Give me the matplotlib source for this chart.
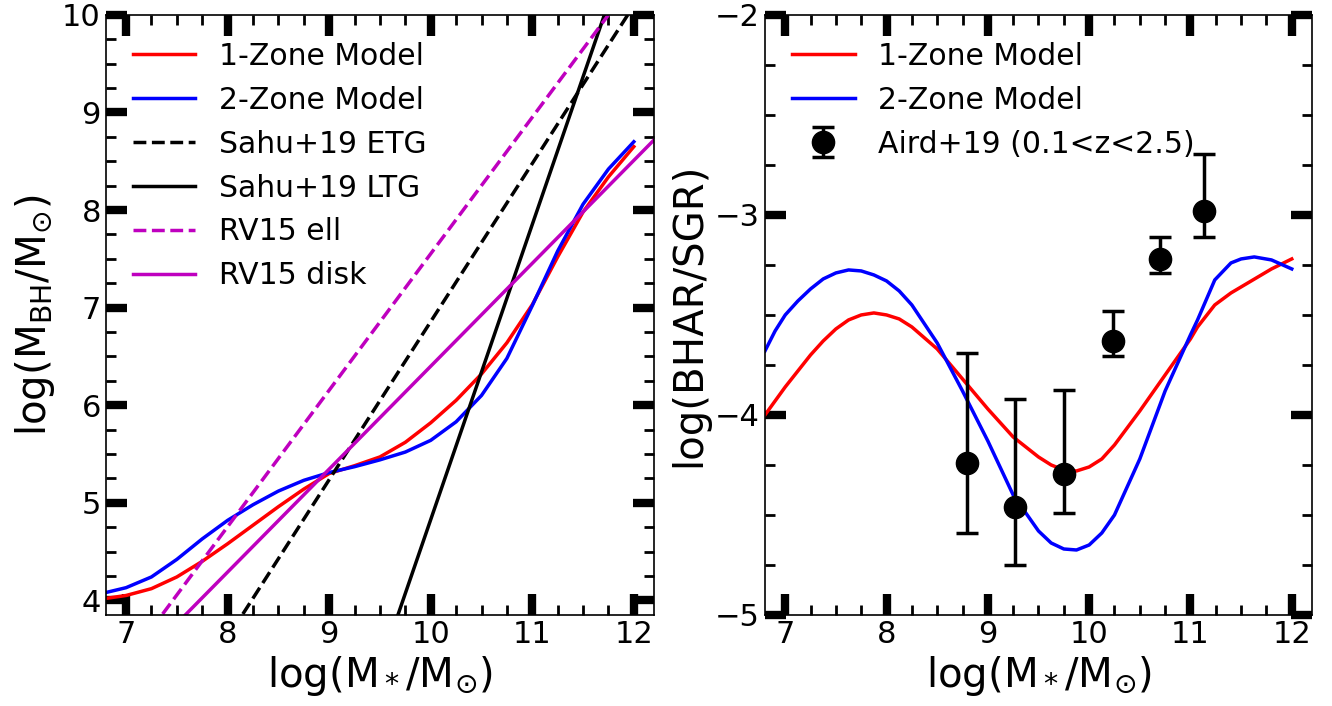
import matplotlib.pyplot as plt
import numpy as np

# ---- left panel: M_BH vs M_* ----
mstar = [6.8, 7.0, 7.25, 7.5, 7.75, 8.0, 8.25, 8.5, 8.75, 9.0, 9.25, 9.5, 9.75,
         10.0, 10.25, 10.5, 10.75, 11.0, 11.25, 11.5, 11.75, 12.0]
mbh_1zone = [4.02, 4.05, 4.12, 4.24, 4.40, 4.58, 4.77, 4.96, 5.14, 5.30, 5.38, 5.47, 5.62,
             5.82, 6.05, 6.32, 6.64, 7.03, 7.52, 7.98, 8.34, 8.65]
mbh_2zone = [4.08, 4.13, 4.24, 4.42, 4.63, 4.82, 4.98, 5.12, 5.23, 5.31, 5.37, 5.44, 5.52,
             5.64, 5.83, 6.10, 6.48, 7.02, 7.58, 8.06, 8.42, 8.70]

# scaling relations, end points
sahu_etg_x, sahu_etg_y = [8.15, 11.94], [3.86, 10.0]
sahu_ltg_x, sahu_ltg_y = [9.68, 11.71], [3.86, 10.0]
rv15_ell_x, rv15_ell_y = [7.36, 11.75], [3.86, 10.0]
rv15_disk_x, rv15_disk_y = [7.45, 12.2], [3.71, 8.72]

# ---- right panel: BHAR/SGR ----
mstar_r1 = [6.8, 6.9, 7.0, 7.125, 7.25, 7.375, 7.5, 7.625, 7.75, 7.875, 8.0, 8.125, 8.25,
            8.5, 8.75, 9.0, 9.25, 9.5, 9.625, 9.75, 9.875, 10.0, 10.125, 10.25, 10.5,
            10.75, 11.0, 11.07, 11.24, 11.4, 11.6, 11.8, 12.0]
ratio_1zone = [-4.00, -3.93, -3.86, -3.78, -3.70, -3.63, -3.57, -3.525, -3.50, -3.49, -3.50,
               -3.52, -3.56, -3.67, -3.82, -3.97, -4.11, -4.21, -4.25, -4.275, -4.28, -4.26,
               -4.22, -4.15, -3.98, -3.80, -3.62, -3.56, -3.45, -3.39, -3.33, -3.27, -3.22]
mstar_r2 = [6.8, 6.9, 7.0, 7.125, 7.25, 7.375, 7.5, 7.625, 7.75, 7.875, 8.0, 8.125, 8.25,
            8.5, 8.75, 9.0, 9.25, 9.5, 9.625, 9.75, 9.875, 10.0, 10.125, 10.25, 10.5,
            10.75, 11.0, 11.07, 11.24, 11.4, 11.5, 11.63, 11.8, 12.0]
ratio_2zone = [-3.68, -3.58, -3.50, -3.43, -3.37, -3.32, -3.29, -3.275, -3.28, -3.30, -3.33,
               -3.38, -3.45, -3.64, -3.88, -4.13, -4.40, -4.58, -4.64, -4.67, -4.675, -4.65,
               -4.59, -4.50, -4.22, -3.88, -3.60, -3.525, -3.325, -3.24, -3.22, -3.21,
               -3.225, -3.27]

aird_x = [8.79, 9.27, 9.75, 10.24, 10.70, 11.13]
aird_y = [-4.24, -4.46, -4.295, -3.63, -3.22, -2.98]
aird_lo = [-4.59, -4.75, -4.49, -3.705, -3.29, -3.11]
aird_hi = [-3.69, -3.92, -3.875, -3.48, -3.11, -2.695]

plt.rcParams['font.family'] = 'DejaVu Sans'
plt.rcParams['mathtext.fontset'] = 'dejavusans'

fig = plt.figure(figsize=(13.32, 7.06), dpi=100)
ax1 = fig.add_axes([0.0794, 0.1289, 0.4117, 0.85])
ax2 = fig.add_axes([0.5743, 0.1289, 0.4107, 0.85])

lw = 2.5
ax1.plot(mstar, mbh_1zone, color='red', lw=lw, label='1-Zone Model')
ax1.plot(mstar, mbh_2zone, color='blue', lw=lw, label='2-Zone Model')
ax1.plot(sahu_etg_x, sahu_etg_y, 'k--', lw=lw, label='Sahu+19 ETG')
ax1.plot(sahu_ltg_x, sahu_ltg_y, 'k-', lw=lw, label='Sahu+19 LTG')
ax1.plot(rv15_ell_x, rv15_ell_y, 'm--', lw=lw, label='RV15 ell')
ax1.plot(rv15_disk_x, rv15_disk_y, 'm-', lw=lw, label='RV15 disk')
ax1.set_xlim(6.8, 12.2)
ax1.set_ylim(3.85, 10)
ax1.set_xlabel(r'log(M$_*$/M$_{\odot}$)', fontsize=29)
ax1.set_ylabel(r'log(M$_{\rm BH}$/M$_{\odot}$)', fontsize=29)
ax1.legend(loc='upper left', frameon=False, fontsize=21.5, labelspacing=0.5, handlelength=2.1)

ax2.plot(mstar_r1, ratio_1zone, color='red', lw=lw, label='1-Zone Model')
ax2.plot(mstar_r2, ratio_2zone, color='blue', lw=lw, label='2-Zone Model')
yerr = [np.array(aird_y) - np.array(aird_lo), np.array(aird_hi) - np.array(aird_y)]
ax2.errorbar(aird_x, aird_y, yerr=yerr, fmt='o', color='k', ms=16, elinewidth=2.5,
             capsize=8, capthick=2.5, label='Aird+19 (0.1<z<2.5)')
ax2.set_xlim(6.8, 12.2)
ax2.set_ylim(-5, -2)
ax2.set_xlabel(r'log(M$_*$/M$_{\odot}$)', fontsize=29)
ax2.set_ylabel('log(BHAR/SGR)', fontsize=29)
ax2.legend(loc='upper left', frameon=False, fontsize=21.5, labelspacing=0.5, handlelength=2.1)

for ax in (ax1, ax2):
    ax.set_xticks([7, 8, 9, 10, 11, 12])
    ax.minorticks_on()
    ax.xaxis.set_minor_locator(plt.MultipleLocator(0.25))
    ax.yaxis.set_minor_locator(plt.MultipleLocator(0.25))
    ax.yaxis.set_major_locator(plt.MultipleLocator(1))
    ax.tick_params(which='both', direction='in', top=True, right=True, labelsize=22)
    ax.tick_params(which='major', length=15, width=6)
    ax.tick_params(which='minor', length=7.5, width=2)
    for s in ax.spines.values():
        s.set_linewidth(1.2)

fig.savefig('out.png', dpi=100)
